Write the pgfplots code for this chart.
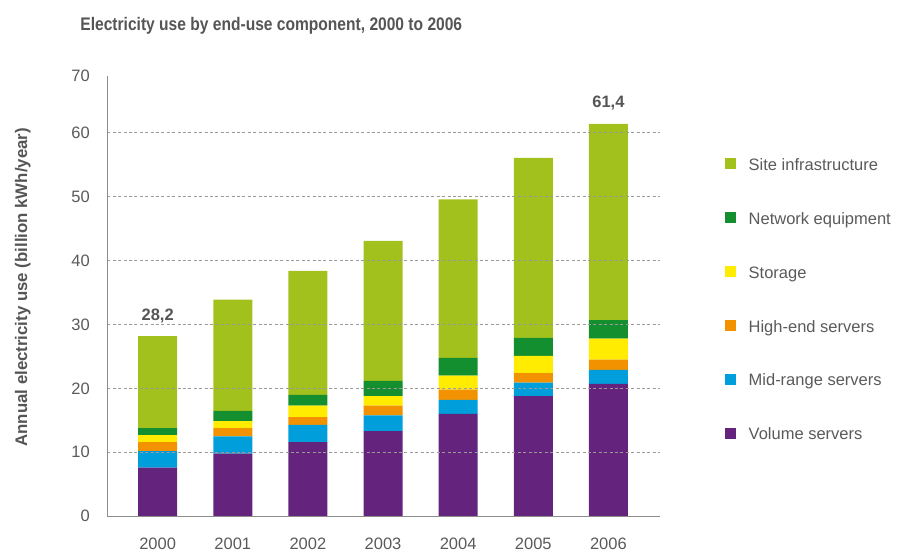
\documentclass[border=0pt]{standalone}
\usepackage{graphicx}
\usepackage{pgfplots}
\pgfplotsset{compat=1.18}
\usepackage{fontspec}
\setmainfont{Liberation Sans}
\definecolor{cSite}{HTML}{A3C11C}
\definecolor{cNet}{HTML}{138F30}
\definecolor{cSto}{HTML}{FFEC00}
\definecolor{cHigh}{HTML}{F39200}
\definecolor{cMid}{HTML}{009EDB}
\definecolor{cVol}{HTML}{64247E}
\definecolor{txt}{HTML}{555555}
\definecolor{tick}{HTML}{5A5A5A}
\definecolor{axc}{HTML}{8C8C8C}
\definecolor{gridc}{HTML}{9A9A9A}
\begin{document}
\begin{tikzpicture}
\useasboundingbox (0,0) rectangle (907pt,552pt);
\begin{axis}[
  at={(107.3pt,35.8pt)}, anchor=south west,
  scale only axis, width=552.2pt, height=440.2pt,
  ybar stacked, bar width=39pt,
  xmin=-0.67, xmax=6.68, ymin=0, ymax=68.9,
  xtick={0,1,2,3,4,5,6},
  xticklabels={2000,2001,2002,2003,2004,2005,2006},
  ytick={0,10,20,30,40,50,60},
  extra y ticks={68.9}, extra y tick labels={70},
  extra y tick style={grid=none},
  ymajorgrids,
  grid style={gridc, line width=1.2pt, dash pattern=on 3pt off 2.4pt},
  axis on top,
  axis x line=bottom, axis y line=left,
  axis line style={-, axc, line width=1.2pt},
  major tick length=0pt,
  /pgf/number format/assume math mode=true,
  tick label style={font=\fontsize{16.5}{18}\selectfont, text=tick, inner sep=0pt},
  xticklabel style={anchor=north, yshift=-21.8pt},
  yticklabel style={anchor=east, xshift=-17.3pt},
  ylabel={Annual electricity use (billion kWh/year)},
  ylabel style={at={(axis description cs:-0.153,0.52)}, anchor=center, font=\fontsize{16.8}{19}\selectfont\bfseries, text=txt},
  title={\scalebox{0.89}[1.04]{Electricity use by end-use component, 2000 to 2006}},
  title style={at={(axis description cs:-0.049,1.106)}, anchor=base west, yshift=-7pt, font=\fontsize{17.5}{20}\selectfont\bfseries, text=txt, inner sep=0pt},
  legend style={at={(axis description cs:1.118,0.813)}, anchor=north west, draw=none, fill=none,
    inner sep=0pt, outer sep=0pt, row sep=37.9pt,
    font=\fontsize{16.5}{18}\selectfont,
    text=tick,
    nodes={inner sep=0pt, text height=12pt, text depth=4pt, anchor=base west},
    /tikz/every odd column/.append style={column sep=13pt}},
  legend cell align=left,
  reverse legend,
  legend image code/.code={\fill[#1] (0pt,1pt) rectangle (11pt,12pt);},
]
\addplot[fill=cVol, draw=none] coordinates {(0,7.6) (1,9.8) (2,11.6) (3,13.3) (4,16.0) (5,18.8) (6,20.7)};
\addlegendentry{Volume servers}
\addplot[fill=cMid, draw=none] coordinates {(0,2.6) (1,2.7) (2,2.7) (3,2.5) (4,2.2) (5,2.1) (6,2.2)};
\addlegendentry{Mid-range servers}
\addplot[fill=cHigh, draw=none] coordinates {(0,1.4) (1,1.3) (2,1.2) (3,1.5) (4,1.6) (5,1.5) (6,1.6)};
\addlegendentry{High-end servers}
\addplot[fill=cSto, draw=none] coordinates {(0,1.1) (1,1.1) (2,1.8) (3,1.5) (4,2.2) (5,2.7) (6,3.3)};
\addlegendentry{Storage}
\addplot[fill=cNet, draw=none] coordinates {(0,1.1) (1,1.6) (2,1.7) (3,2.4) (4,2.8) (5,2.8) (6,2.9)};
\addlegendentry{Network equipment}
\addplot[fill=cSite, draw=none] coordinates {(0,14.4) (1,17.4) (2,19.4) (3,21.9) (4,24.8) (5,28.2) (6,30.7)};
\addlegendentry{Site infrastructure}
\end{axis}
\begin{axis}[
  at={(107.3pt,35.8pt)}, anchor=south west,
  scale only axis, width=552.2pt, height=440.2pt,
  xmin=-0.67, xmax=6.68, ymin=0, ymax=68.9,
  hide axis,
]
\addplot[only marks, mark=none,
  point meta=explicit symbolic,
  nodes near coords,
  every node near coord/.append style={anchor=base, inner sep=0pt, yshift=16pt, font=\fontsize{16.5}{18}\selectfont\bfseries, text=txt}]
  coordinates {(0,28.2) [{28,2}] (6,61.5) [{61,4}]};
\end{axis}
\end{tikzpicture}
\end{document}
